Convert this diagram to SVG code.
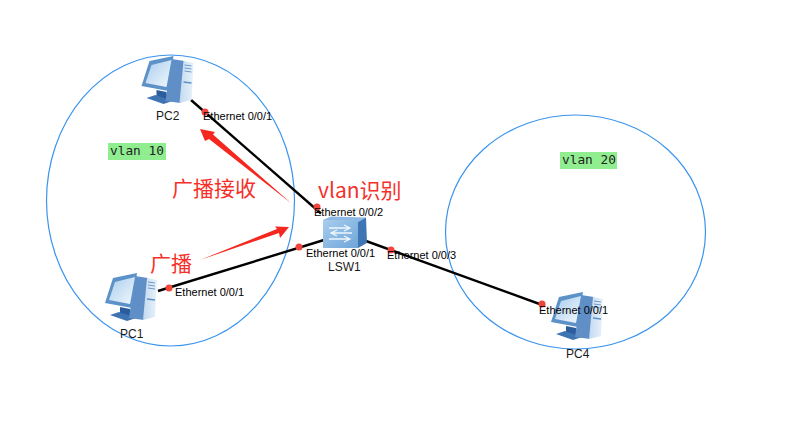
<svg xmlns="http://www.w3.org/2000/svg" width="788" height="431" viewBox="0 0 788 431">
<style>
.zone{fill:none;stroke:#3a94ee;stroke-width:1.2}
.link{stroke:#000;stroke-width:2.4;fill:none}
.dot{fill:#f0443c}
.lbl{font:11px "Liberation Sans",Arial,sans-serif;fill:#000}
.name{font:12px "Liberation Sans",Arial,sans-serif;fill:#1a1a1a}
.mono{font:12.8px "DejaVu Sans Mono","Liberation Mono",monospace;fill:#222}
.red{font:21px "Noto Sans CJK SC","Liberation Sans",sans-serif;fill:#f5302a}
.arrow{fill:#f5281f}
.tag{fill:#90ee90}
</style>
<defs>
<linearGradient id="screen" x1="0" y1="0" x2="1" y2="1"><stop offset="0" stop-color="#a9cdee"/><stop offset="1" stop-color="#f2f8fd"/></linearGradient>
<linearGradient id="tower" x1="0" y1="0" x2="1" y2="0"><stop offset="0" stop-color="#c3daf0"/><stop offset="1" stop-color="#e8f2fb"/></linearGradient>
<linearGradient id="swf" x1="0" y1="0" x2="1" y2="1"><stop offset="0" stop-color="#a8cdee"/><stop offset="1" stop-color="#6fa5d8"/></linearGradient>
<g id="pc">
<polygon points="15,34 25,36 26,44 15,42" fill="#2b5c9e"/>
<polygon points="5,42 14,39 31,45 22,48" fill="#3f74b2"/>
<polygon points="30,3 43,5 39,47 24,45" fill="#5f8fc6"/>
<polygon points="42,5 52,7 50,44 38,47" fill="url(#tower)"/>
<path d="M43 9l7 1M43 12l7 1M43 15l7 1" stroke="#6e9aca" stroke-width="1" fill="none"/>
<path d="M42 26l8 1" stroke="#5f8fc6" stroke-width="1.5" fill="none"/>
<polygon points="8,5 32,0 27,35 0,30" fill="#5d92c9"/>
<polygon points="10,9 30,4 25,31 4,27" fill="url(#screen)"/>
</g>
</defs>
<g id="zones">
<ellipse class="zone" cx="170.500" cy="200.500" rx="124" ry="145.500"/>
<ellipse class="zone" cx="575.500" cy="232" rx="130" ry="117"/>
</g>
<g id="connectors">
<line class="link" x1="191" y1="100" x2="321" y2="213.500"/>
<line class="link" x1="158" y1="291" x2="324" y2="240"/>
<line class="link" x1="366" y1="241" x2="545" y2="306"/>
<circle class="dot" cx="205" cy="112" r="3.500"/>
<circle class="dot" cx="317" cy="207" r="3.500"/>
<circle class="dot" cx="169" cy="288" r="3.500"/>
<circle class="dot" cx="299" cy="247" r="3.500"/>
<circle class="dot" cx="391" cy="250" r="3.500"/>
<circle class="dot" cx="542" cy="304" r="3.500"/>
</g>
<g id="PC2"><use href="#pc" x="141.500" y="56"/><text class="name" x="156" y="120">PC2</text></g>
<g id="PC1"><use href="#pc" x="105" y="273"/><text class="name" x="120" y="338">PC1</text></g>
<g id="PC4"><use href="#pc" x="551" y="292"/><text class="name" x="566" y="358">PC4</text></g>
<g id="LSW1">
<polygon points="323,220 331,216.500 366,217.500 358,222" fill="#8db9e4"/>
<polygon points="358,222 366,217.500 367,243 358,248" fill="#3d76b2"/>
<rect x="323" y="220" width="35" height="28" fill="url(#swf)"/>
<path d="M329 228h20M344 225l6 3-6 3M352 233h-20M337 230l-6 3 6 3M329 239h20M344 236l6 3-6 3" stroke="#eef6fd" stroke-width="1.3" fill="none"/>
<text class="name" x="328" y="271">LSW1</text>
</g>
<g id="labels">
<text class="lbl" x="203" y="120">Ethernet 0/0/1</text>
<text class="lbl" x="314" y="216">Ethernet 0/0/2</text>
<text class="lbl" x="306" y="257">Ethernet 0/0/1</text>
<text class="lbl" x="387" y="259">Ethernet 0/0/3</text>
<text class="lbl" x="175" y="296">Ethernet 0/0/1</text>
<text class="lbl" x="539" y="314">Ethernet 0/0/1</text>
</g>
<g id="vlan10"><rect class="tag" x="108" y="143" width="58" height="17"/><text class="mono" x="110" y="155">vlan 10</text></g>
<g id="vlan20"><rect class="tag" x="560" y="152" width="57" height="17"/><text class="mono" x="562" y="164">vlan 20</text></g>
<g id="annotations">
<polygon class="arrow" points="291.500,203.500 213,134.500 215,132 200,129 205,141 209,139"/>
<polygon class="arrow" points="200,260 277,229 275,226.500 289,227 280,238 279,233"/>
<text class="red" x="172" y="196">广播接收</text>
<text class="red" x="150" y="271">广播</text>
<text class="red" x="318" y="198">vlan识别</text>
</g>
</svg>
